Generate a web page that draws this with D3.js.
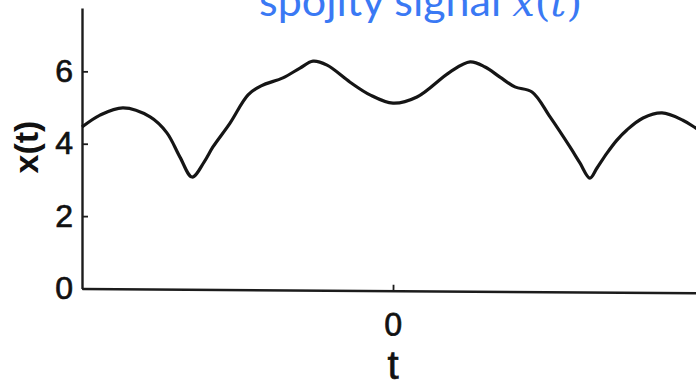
<!doctype html>
<html>
  <head>
    <meta charset="utf-8">
    <title>spojitý signál x(t)</title>
    <script src="https://cdnjs.cloudflare.com/ajax/libs/d3/7.8.5/d3.min.js"></script>
    <style>
      body { margin: 0; background: #fff; }
      svg { display: block; }
      .tick text { font-family: "Liberation Sans", Arial, sans-serif; fill: #111; }
    </style>
  </head>
  <body>
    <div id="chart"></div>

    <script>
      // samples of the signal (t scaled so the axis runs -1..1)
      const tValues = [-1.000, -0.942, -0.868, -0.781, -0.727, -0.685, -0.646, -0.607, -0.579, -0.524,
                       -0.466, -0.424, -0.354, -0.299, -0.257, -0.212, -0.138, -0.074, 0.000, 0.077,
                       0.183, 0.248, 0.296, 0.344, 0.392, 0.447, 0.505, 0.569, 0.601, 0.633,
                       0.656, 0.688, 0.720, 0.752, 0.804, 0.865, 0.932, 0.974, 1.000];
      const xValues = [4.46, 4.79, 4.99, 4.74, 4.30, 3.63, 3.08, 3.50, 3.91, 4.57,
                       5.35, 5.60, 5.82, 6.09, 6.28, 6.17, 5.70, 5.35, 5.12, 5.29,
                       5.98, 6.26, 6.12, 5.84, 5.57, 5.43, 4.74, 3.91, 3.47, 3.05,
                       3.33, 3.74, 4.10, 4.38, 4.71, 4.85, 4.65, 4.43, 4.30];
      const yTicks = [0, 2, 4, 6];
      const xTicks = [0];

      const width = 696, height = 381;

      const x = d3.scaleLinear().domain([-1, 1]).range([82, 704]);
      const y = d3.scaleLinear().domain([0, 7.75]).range([288.5, 8]);

      const svg = d3.select('#chart')
        .append('svg')
        .attr('width', width)
        .attr('height', height);

      // title, cut off at the top like in the slide
      const title = svg.append('text')
        .attr('x', 582)
        .attr('y', 16)
        .attr('text-anchor', 'end')
        .style('font-family', 'Lato, "Open Sans", sans-serif')
        .style('font-size', '43px')
        .style('fill', '#3a79f4');
      title.append('tspan').text('spojitý signál ');
      title.append('tspan').style('font-family', '"DejaVu Serif", serif').style('font-style', 'italic').style('font-size', '40px').text('x');
      title.append('tspan').style('font-family', '"DejaVu Serif", serif').style('font-size', '40px').text('(');
      title.append('tspan').style('font-family', '"DejaVu Serif", serif').style('font-style', 'italic').style('font-size', '40px').text('t');
      title.append('tspan').style('font-family', '"DejaVu Serif", serif').style('font-size', '40px').text(')');

      // x axis (slightly tilted, as in the scan)
      svg.append('g')
        .attr('transform', 'translate(0,' + y(0) + ') rotate(0.4,82,0)')
        .call(d3.axisBottom(x).tickValues(xTicks).tickFormat(d3.format('d'))
          .tickSizeInner(-6).tickSizeOuter(0).tickPadding(22));

      svg.append('g')
        .attr('transform', 'translate(' + x(-1) + ',0)')
        .call(d3.axisLeft(y).tickValues(yTicks).tickFormat(d3.format('d'))
          .tickSizeInner(-6).tickSizeOuter(0).tickPadding(9));

      svg.selectAll('.domain').attr('stroke', '#1c1c1c').attr('stroke-width', 2.4);
      svg.selectAll('.tick line').attr('stroke', '#1c1c1c').attr('stroke-width', 1.8);
      svg.selectAll('.tick text')
        .style('font-size', '32px')
        .style('stroke', '#111')
        .style('stroke-width', 0.7);

      // axis labels
      svg.append('text')
        .attr('x', 393)
        .attr('y', 379)
        .attr('text-anchor', 'middle')
        .style('font-family', '"Liberation Sans", Arial, sans-serif')
        .style('font-size', '40px')
        .style('fill', '#111')
        .style('stroke', '#111')
        .style('stroke-width', 0.7)
        .text('t');

      svg.append('text')
        .attr('transform', 'translate(38,147) rotate(-90)')
        .attr('text-anchor', 'middle')
        .style('font-family', '"Liberation Sans", Arial, sans-serif')
        .style('font-weight', 'bold')
        .style('font-size', '34px')
        .style('fill', '#111')
        .text('x(t)');

      // the signal
      const line = d3.line()
        .x(function(d, i) { return x(tValues[i]); })
        .y(function(d) { return y(d); })
        .curve(d3.curveCatmullRom.alpha(0.5));

      svg.append('path')
        .datum(xValues)
        .attr('d', line)
        .attr('fill', 'none')
        .attr('stroke', '#151515')
        .attr('stroke-width', 3.2)
        .attr('stroke-linejoin', 'round');
    </script>
  </body>
</html>
